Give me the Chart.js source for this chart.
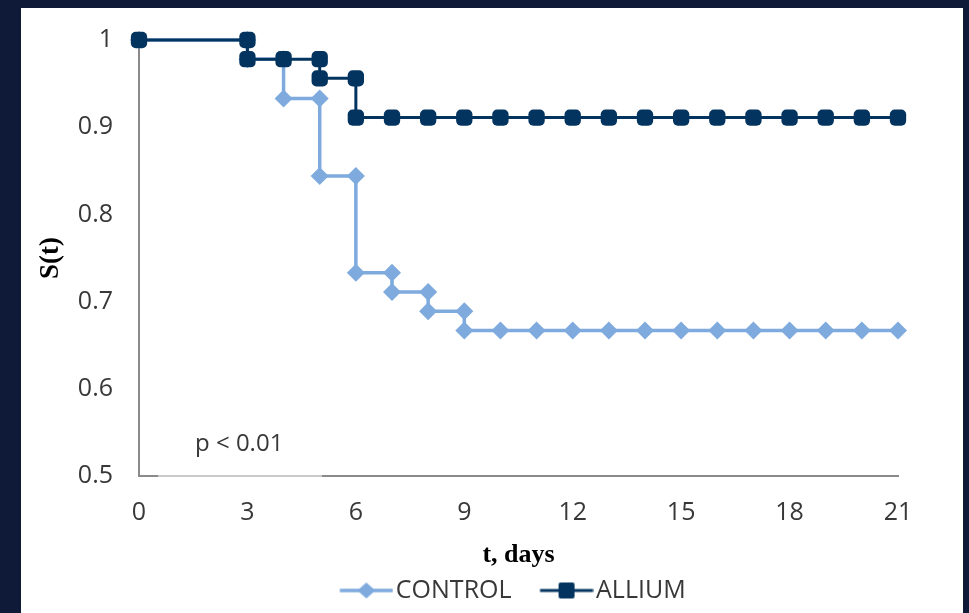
<!DOCTYPE html>
<html>
<head>
<meta charset="utf-8">
<title>Survival curves</title>
<script src="https://cdn.jsdelivr.net/npm/chart.js@4/dist/chart.umd.min.js"></script>
<style>
  html, body { margin: 0; padding: 0; width: 969px; height: 613px; overflow: hidden; background: #0f1938; }
  #panel { position: absolute; left: 21px; top: 8px; width: 942px; height: 605px; background: #ffffff; }
  canvas { display: block; }
</style>
</head>
<body>
<div id="panel"><canvas id="chart" width="942" height="605"></canvas></div>
<script>
// Kaplan-Meier survival, S(t), by day of observation
const controlDays     = [0, 3, 3, 4, 4, 5, 5, 6, 6, 7, 7, 8, 8, 9, 9, 10, 11, 12, 13, 14, 15, 16, 17, 18, 19, 20, 21];
const controlSurvival = [1, 1, 0.978, 0.978, 0.933, 0.933, 0.844, 0.844, 0.733, 0.733, 0.711, 0.711, 0.689, 0.689,
                         0.667, 0.667, 0.667, 0.667, 0.667, 0.667, 0.667, 0.667, 0.667, 0.667, 0.667, 0.667, 0.667];

const alliumDays      = [0, 3, 3, 4, 5, 5, 6, 6, 7, 8, 9, 10, 11, 12, 13, 14, 15, 16, 17, 18, 19, 20, 21];
const alliumSurvival  = [1, 1, 0.978, 0.978, 0.978, 0.956, 0.956, 0.911, 0.911, 0.911, 0.911, 0.911, 0.911, 0.911,
                         0.911, 0.911, 0.911, 0.911, 0.911, 0.911, 0.911, 0.911, 0.911];

const seriesNames = ['CONTROL', 'ALLIUM'];
const xTicks = [0, 3, 6, 9, 12, 15, 18, 21];
const yTicks = [0.5, 0.6, 0.7, 0.8, 0.9, 1];
const xTitle = 't, days';
const yTitle = 'S(t)';
const pNote = { text: 'p < 0.01', x: 1.55, y: 0.536 };
const pNoteBox = [0.53, 5.06];

const CONTROL_COLOR = '#7eaade';
const ALLIUM_COLOR = '#03345f';
const TEXT_COLOR = '#383838';
const AXIS_COLOR = '#8a8a8a';
const SANS = '"Open Sans", "Noto Sans", sans-serif';
const SERIF = '"Liberation Serif", "DejaVu Serif", serif';
const LEGEND_SHIFT = 42;

const toPoints = (xs, ys) => xs.map((d, i) => ({ x: d, y: ys[i] }));

// legend icons: a short line with the series marker in the middle
function legendIcon(color, lineWidth, drawMarker) {
  const c = document.createElement('canvas');
  c.width = 86; c.height = 22;
  const g = c.getContext('2d');
  g.strokeStyle = color; g.lineWidth = lineWidth;
  g.beginPath(); g.moveTo(32.5, 11); g.lineTo(85.5, 11); g.stroke();
  g.fillStyle = color;
  drawMarker(g, 59, 11);
  return c;
}
const legendIcons = [
  legendIcon(CONTROL_COLOR, 3.5, (g, cx, cy) => {
    g.beginPath(); g.moveTo(cx - 9, cy); g.lineTo(cx, cy - 8); g.lineTo(cx + 9, cy); g.lineTo(cx, cy + 8); g.closePath(); g.fill();
  }),
  legendIcon(ALLIUM_COLOR, 3, (g, cx, cy) => {
    g.beginPath(); g.roundRect(cx - 8, cy - 8, 16, 16, 2); g.fill();
  })
];

// p-value note; its white box slightly veils the axis line below it
const pNotePlugin = {
  id: 'pNote',
  afterLayout(chart) {
    // legend sits a little right of the canvas centre
    if (chart.legend) { chart.legend.left += LEGEND_SHIFT; chart.legend.right += LEGEND_SHIFT; }
  },
  afterDraw(chart) {
    const { ctx, scales: { x, y } } = chart;
    const x0 = x.getPixelForValue(pNoteBox[0]);
    const x1 = x.getPixelForValue(pNoteBox[1]);
    const yb = y.getPixelForValue(0.5);
    ctx.save();
    ctx.fillStyle = 'rgba(255,255,255,0.55)';
    ctx.fillRect(x0, yb - 2, x1 - x0, 4);
    ctx.font = '24px ' + SANS;
    ctx.fillStyle = TEXT_COLOR;
    ctx.textBaseline = 'middle';
    ctx.textAlign = 'left';
    ctx.fillText(pNote.text, x.getPixelForValue(pNote.x), y.getPixelForValue(pNote.y));
    ctx.restore();
  }
};

new Chart(document.getElementById('chart'), {
  type: 'line',
  data: {
    datasets: [
      {
        label: seriesNames[0],
        data: toPoints(controlDays, controlSurvival),
        borderColor: CONTROL_COLOR,
        backgroundColor: CONTROL_COLOR,
        borderWidth: 3.5,
        pointStyle: 'rectRot',
        pointRadius: 9,
        pointBorderWidth: 0,
        pointBackgroundColor: CONTROL_COLOR,
        tension: 0,
        clip: false,
        order: 1
      },
      {
        label: seriesNames[1],
        data: toPoints(alliumDays, alliumSurvival),
        borderColor: ALLIUM_COLOR,
        backgroundColor: ALLIUM_COLOR,
        borderWidth: 3,
        pointStyle: 'rectRounded',
        pointRadius: 9.5,
        pointBorderWidth: 0,
        pointBackgroundColor: ALLIUM_COLOR,
        tension: 0,
        clip: false,
        order: 0
      }
    ]
  },
  options: {
    responsive: false,
    animation: false,
    events: [],
    layout: { padding: { left: 0, top: 32, right: 65, bottom: 0 } },
    scales: {
      x: {
        type: 'linear',
        min: 0, max: 21,
        afterBuildTicks(s) { s.ticks = xTicks.map(v => ({ value: v })); },
        afterFit(s) { s.height = 96; },
        ticks: { padding: 22, color: TEXT_COLOR, font: { family: SANS, size: 25 }, maxRotation: 0 },
        grid: { display: false, drawTicks: false },
        border: { display: true, color: AXIS_COLOR, width: 2 },
        title: { display: true, text: xTitle, color: '#000', padding: { top: 0, bottom: 1 }, font: { family: SERIF, size: 26, weight: 'bold' } }
      },
      y: {
        type: 'linear',
        min: 0.5, max: 1,
        afterBuildTicks(s) { s.ticks = yTicks.map(v => ({ value: v })); },
        afterFit(s) { s.width = 118; },
        ticks: { padding: 3, color: TEXT_COLOR, font: { family: SANS, size: 25 }, callback: v => String(v) },
        grid: { display: false, drawTicks: true, tickLength: 23 },
        border: { display: true, color: AXIS_COLOR, width: 2 },
        title: { display: true, text: yTitle, color: '#000', padding: { top: 14, bottom: 0 }, font: { family: SERIF, size: 27, weight: 'bold' } }
      }
    },
    plugins: {
      tooltip: { enabled: false },
      legend: {
        position: 'bottom',
        labels: {
          usePointStyle: true,
          pointStyleWidth: 66,
          padding: 6,
          color: TEXT_COLOR,
          font: { family: SANS, size: 25 },
          sort: (a, b) => a.datasetIndex - b.datasetIndex,
          generateLabels(chart) {
            const items = Chart.defaults.plugins.legend.labels.generateLabels(chart);
            items.forEach(it => { it.pointStyle = legendIcons[it.datasetIndex]; });
            return items;
          }
        }
      }
    }
  },
  plugins: [pNotePlugin]
});
</script>
</body>
</html>
